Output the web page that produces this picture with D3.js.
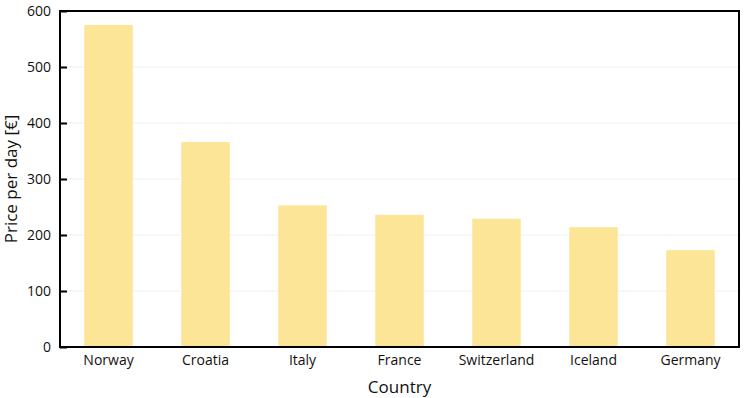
<!DOCTYPE html>
<html>
<head>
<meta charset="utf-8">
<script src="https://cdn.jsdelivr.net/npm/d3@7"></script>
<style>
  body { margin: 0; background: #fff; }
  text { font-family: "Open Sans", "Noto Sans", sans-serif; fill: #111; }
</style>
</head>
<body>
<div id="chart"></div>
<script>
const countries = ["Norway", "Croatia", "Italy", "France", "Switzerland", "Iceland", "Germany"];
const prices = [575, 366, 253, 236, 229, 214, 173];
const yTicks = [0, 100, 200, 300, 400, 500, 600];

const width = 745, height = 398;
const margin = { top: 11, right: 6, bottom: 51, left: 60 };
const iw = width - margin.left - margin.right;
const ih = height - margin.top - margin.bottom;

const svg = d3.select("#chart").append("svg")
  .attr("width", width).attr("height", height);
const g = svg.append("g").attr("transform", `translate(${margin.left},${margin.top})`);

const x = d3.scaleBand().domain(countries).range([0, iw]).paddingInner(0.5).paddingOuter(0.25);
const y = d3.scaleLinear().domain([0, 600]).range([ih, 0]);

// grid
g.selectAll(".grid").data(yTicks.slice(1, -1)).enter().append("line")
  .attr("x1", 0).attr("x2", iw)
  .attr("y1", d => y(d)).attr("y2", d => y(d))
  .attr("stroke", "#f0f0f0").attr("stroke-width", 1);

// bars
g.selectAll(".bar").data(countries).enter().append("rect")
  .attr("x", d => x(d))
  .attr("y", (d, i) => y(prices[i]))
  .attr("width", x.bandwidth())
  .attr("height", (d, i) => ih - y(prices[i]))
  .attr("fill", "#fde598");

// frame
g.append("rect").attr("x", 0).attr("y", 0).attr("width", iw).attr("height", ih)
  .attr("fill", "none").attr("stroke", "#000").attr("stroke-width", 2);

// y axis (ticks point inward)
const yAxis = g.append("g").call(d3.axisLeft(y).tickValues(yTicks).tickSize(-7).tickPadding(9));
yAxis.select(".domain").remove();
yAxis.selectAll(".tick line").attr("stroke", "#000").attr("stroke-width", 2);
yAxis.selectAll("text").style("font-size", "14px").attr("fill", "#111");

// x axis
const xAxis = g.append("g").attr("transform", `translate(0,${ih})`)
  .call(d3.axisBottom(x).tickSize(0).tickPadding(8));
xAxis.select(".domain").remove();
xAxis.selectAll("text").style("font-size", "14px").attr("fill", "#111");

// labels
svg.append("text").attr("x", margin.left + iw / 2).attr("y", 393)
  .attr("text-anchor", "middle").style("font-size", "17px").text("Country");
svg.append("text").attr("transform", `translate(17,${margin.top + ih / 2}) rotate(-90)`)
  .attr("text-anchor", "middle").style("font-size", "17px").text("Price per day [€]");
</script>
</body>
</html>
